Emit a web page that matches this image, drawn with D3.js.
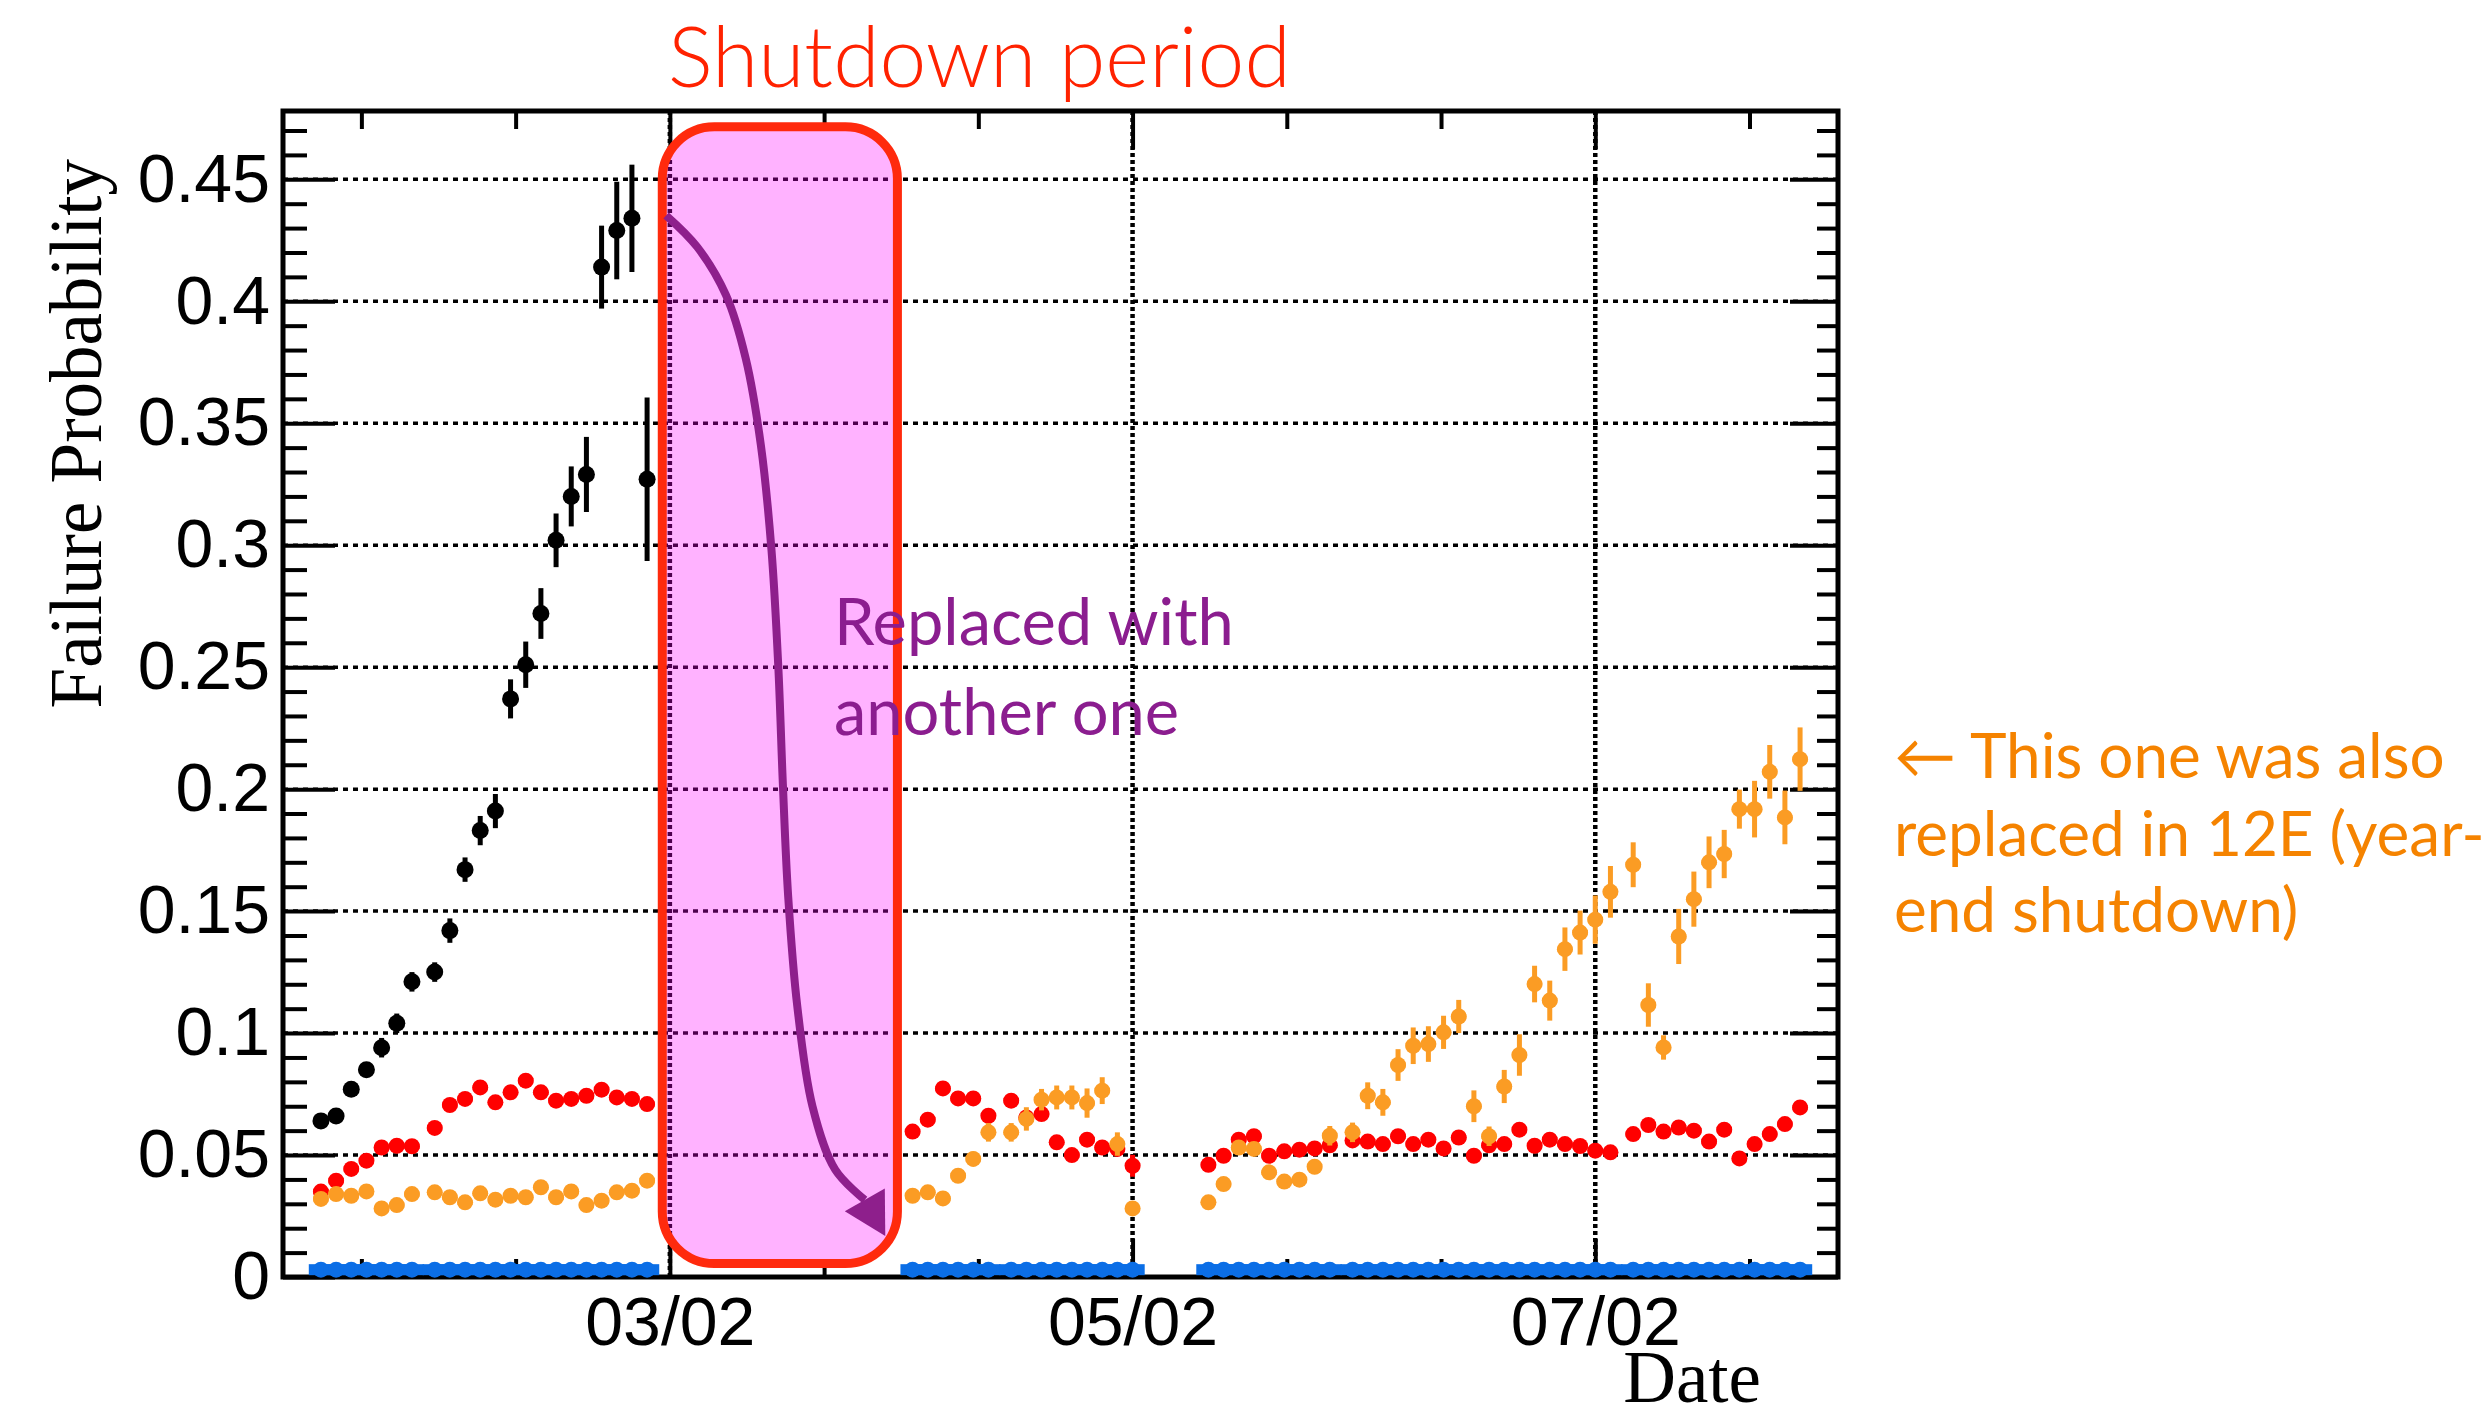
<!DOCTYPE html>
<html>
<head>
<meta charset="utf-8">
<script src="https://cdn.jsdelivr.net/npm/d3@7"></script>
<style>
  body { margin: 0; background: #fff; }
  svg { display: block; }
  .grid line { stroke: #000; }
  .axis path { display: none; }
  .axis line { stroke: #000; stroke-width: 4; }
  .axis text { font-family: "Liberation Sans", Arial, sans-serif; font-size: 68px; fill: #000; }
  .title { font-family: "Liberation Serif", "Times New Roman", serif; font-size: 73px; fill: #000; }
  .note { font-family: Lato, "Open Sans", sans-serif; }
</style>
</head>
<body>
<script>
// ---- data -------------------------------------------------------------
var xDomain = ['2013-01-10', '2013-08-03'];
var yMax = 0.478;

var yTicks = [0, 0.05, 0.1, 0.15, 0.2, 0.25, 0.3, 0.35, 0.4, 0.45];
var yTickLabels = ['0', '0.05', '0.1', '0.15', '0.2', '0.25', '0.3', '0.35', '0.4', '0.45'];
var xTicks = ['2013-03-02', '2013-05-02', '2013-07-02'];
var xTickLabels = ['03/02', '05/02', '07/02'];

// before the shutdown
var dates1 = ['2013-01-15','2013-01-17','2013-01-19','2013-01-21','2013-01-23','2013-01-25','2013-01-27','2013-01-30',
  '2013-02-01','2013-02-03','2013-02-05','2013-02-07','2013-02-09','2013-02-11','2013-02-13','2013-02-15',
  '2013-02-17','2013-02-19','2013-02-21','2013-02-23','2013-02-25','2013-02-27'];
var black1 = [0.064,0.066,0.077,0.085,0.094,0.104,0.121,0.125,0.142,0.167,0.183,0.191,0.237,0.251,0.272,0.302,0.320,0.329,0.414,0.429,0.434,0.327];
var blackErr1 = [0.003,0.003,0.003,0.003,0.004,0.004,0.004,0.004,0.005,0.005,0.006,0.007,0.008,0.0095,0.0104,0.011,0.0123,0.0154,0.017,0.020,0.022,0.0335];
var red1 = [0.035,0.0395,0.0443,0.0477,0.0531,0.0538,0.0536,0.0611,0.0705,0.0730,0.0777,0.0716,0.0757,0.0805,0.0757,0.0723,0.0730,0.0743,0.0768,0.0736,0.0730,0.0709];
var orange1 = [0.032,0.034,0.0333,0.0351,0.0281,0.0295,0.034,0.0347,0.0327,0.0306,0.0343,0.0317,0.0333,0.0327,0.0368,0.0327,0.0351,0.0295,0.0313,0.0347,0.0354,0.0395];
var blue1 = [0.003,0.003,0.003,0.003,0.003,0.003,0.003,0.003,0.003,0.003,0.003,0.003,0.003,0.003,0.003,0.003,0.003,0.003,0.003,0.003,0.003,0.003];

// between the shutdown and May
var dates2 = ['2013-04-03','2013-04-05','2013-04-07','2013-04-09','2013-04-11','2013-04-13','2013-04-16','2013-04-18',
  '2013-04-20','2013-04-22','2013-04-24','2013-04-26','2013-04-28','2013-04-30','2013-05-02'];
var red2 = [0.0596,0.0645,0.0773,0.0732,0.0732,0.0661,0.0723,0.0654,0.0668,0.0552,0.050,0.0563,0.0531,0.0525,0.0456];
var redErr2 = [0.002,0.002,0.002,0.002,0.002,0.002,0.002,0.002,0.002,0.002,0.002,0.002,0.002,0.003,0.0045];
var orange2 = [0.0333,0.0347,0.0322,0.0415,0.0484,0.0593,0.0593,0.0648,0.0727,0.0736,0.0736,0.0713,0.0764,0.0545,0.0281];
var orangeErr2 = [0.002,0.002,0.002,0.002,0.003,0.0038,0.0038,0.0048,0.0044,0.0049,0.0049,0.006,0.0055,0.0048,0.003];
var blue2 = [0.003,0.003,0.003,0.003,0.003,0.003,0.003,0.003,0.003,0.003,0.003,0.003,0.003,0.003,0.003];

// from mid May
var dates3 = ['2013-05-12','2013-05-14','2013-05-16','2013-05-18','2013-05-20','2013-05-22','2013-05-24','2013-05-26',
  '2013-05-28','2013-05-31','2013-06-02','2013-06-04','2013-06-06','2013-06-08','2013-06-10','2013-06-12',
  '2013-06-14','2013-06-16','2013-06-18','2013-06-20','2013-06-22','2013-06-24','2013-06-26','2013-06-28',
  '2013-06-30','2013-07-02','2013-07-04','2013-07-07','2013-07-09','2013-07-11','2013-07-13','2013-07-15',
  '2013-07-17','2013-07-19','2013-07-21','2013-07-23','2013-07-25','2013-07-27','2013-07-29'];
var red3 = [0.046,0.0497,0.0563,0.0577,0.0497,0.0515,0.0522,0.0527,0.054,0.056,0.0555,0.0545,0.0577,0.0545,0.0563,0.0527,
  0.0572,0.0497,0.054,0.0545,0.0604,0.0538,0.0563,0.0545,0.0537,0.0518,0.0511,0.0586,0.0623,0.0596,0.0613,0.060,
  0.0555,0.0604,0.0486,0.0545,0.0586,0.0627,0.0695];
var orange3 = [0.0306,0.0381,0.0531,0.0525,0.0429,0.0391,0.0399,0.0452,0.0579,0.0593,0.0743,0.0716,0.0869,0.0948,0.0955,0.1003,
  0.1068,0.070,0.0577,0.0781,0.091,0.1201,0.1133,0.1344,0.1412,0.1465,0.1579,0.169,0.1115,0.0941,0.1396,0.1549,
  0.170,0.1734,0.1918,0.1918,0.2071,0.1884,0.2123];
var orangeErr3 = [0.002,0.002,0.002,0.002,0.002,0.002,0.002,0.003,0.004,0.004,0.0055,0.0055,0.0065,0.0075,0.0073,0.0068,
  0.0068,0.0065,0.004,0.0068,0.0085,0.0075,0.0082,0.0089,0.009,0.0099,0.0106,0.0092,0.0089,0.005,0.0113,0.0113,
  0.0106,0.0099,0.008,0.0116,0.011,0.011,0.013];
var blue3 = [0.003,0.003,0.003,0.003,0.003,0.003,0.003,0.003,0.003,0.003,0.003,0.003,0.003,0.003,0.003,0.003,
  0.003,0.003,0.003,0.003,0.003,0.003,0.003,0.003,0.003,0.003,0.003,0.003,0.003,0.003,0.003,0.003,
  0.003,0.003,0.003,0.003,0.003,0.003,0.003];

// annotations
var shutdown = ['2013-03-01', '2013-04-01'];
var shutdownY = [0.0055, 0.4715];
// arrow: [days after xDomain[0], value]
var arrowPts = [[50.5,0.4352],[54.6,0.4223],[58.4,0.4025],[61.0,0.3766],[63.0,0.3410],[64.4,0.2980],[65.3,0.2500],
  [65.9,0.2020],[66.6,0.1560],[67.8,0.1110],[69.8,0.0700],[72.8,0.0440],[76.7,0.0316]];
var arrowTip = [79.4, 0.0168];

// ---- chart ------------------------------------------------------------
(function() {
var W = 2491, H = 1420;
var pL = 283, pR = 1838, pT = 111, pB = 1277;
var parse = d3.utcParse('%Y-%m-%d');
var DAY = 864e5;

var svg = d3.select('body').append('svg').attr('width', W).attr('height', H);
svg.append('rect').attr('width', W).attr('height', H).attr('fill', '#fff');

var x = d3.scaleUtc().domain(xDomain.map(parse)).range([pL, pR]);
var y = d3.scaleLinear().domain([0, yMax]).range([pB, pT]);
var t0 = parse(xDomain[0]).getTime();
function dayX(n) { return x(new Date(t0 + n * DAY)); }

var xMajor = xTicks.map(parse);
var step = (xMajor[1] - xMajor[0]) / 3;
var xMinor = [];
for (var k = -6; k < 12; k++) {
  var t = new Date(xMajor[0].getTime() + k * step);
  if (k % 3 !== 0 && t >= x.domain()[0] && t <= x.domain()[1]) xMinor.push(t);
}
var yMinor = d3.range(1, 48).map(function(i){ return i / 100; })
  .filter(function(v){ return Math.round(v * 100) % 5 !== 0; });

// grid
var grid = svg.append('g').attr('class', 'grid');
grid.selectAll('.gy').data(yTicks.slice(1)).enter().append('line')
  .attr('x1', pL).attr('x2', pR)
  .attr('y1', function(d){ return y(d); }).attr('y2', function(d){ return y(d); })
  .attr('stroke-width', 3.5).attr('stroke-dasharray', '5,5');
grid.selectAll('.gx').data(xMajor).enter().append('line')
  .attr('x1', function(d){ return x(d); }).attr('x2', function(d){ return x(d); })
  .attr('y1', pT).attr('y2', pB)
  .attr('stroke-width', 4.5).attr('stroke-dasharray', '4,3');

// shutdown box
var bx0 = x(parse(shutdown[0])), bx1 = x(parse(shutdown[1]));
var by0 = y(shutdownY[1]), by1 = y(shutdownY[0]);
svg.append('rect')
  .attr('x', bx0).attr('y', by0).attr('width', bx1 - bx0).attr('height', by1 - by0)
  .attr('rx', 52).attr('ry', 52)
  .attr('fill', '#ff00ff').attr('fill-opacity', 0.3);

// axes
function styleAxis(g) { g.attr('class', 'axis'); }
svg.append('g').attr('transform', 'translate(' + pL + ',0)')
  .call(d3.axisLeft(y).tickValues(yTicks).tickSizeInner(-52).tickSizeOuter(0).tickPadding(13)
    .tickFormat(function(d, i){ return yTickLabels[i]; }))
  .call(styleAxis);
svg.append('g').attr('transform', 'translate(' + pL + ',0)')
  .call(d3.axisLeft(y).tickValues(yMinor).tickSizeInner(-24).tickSizeOuter(0).tickFormat(''))
  .call(styleAxis);
svg.append('g').attr('transform', 'translate(' + pR + ',0)')
  .call(d3.axisRight(y).tickValues(yTicks).tickSizeInner(-48).tickSizeOuter(0).tickFormat(''))
  .call(styleAxis);
svg.append('g').attr('transform', 'translate(' + pR + ',0)')
  .call(d3.axisRight(y).tickValues(yMinor).tickSizeInner(-21).tickSizeOuter(0).tickFormat(''))
  .call(styleAxis);
svg.append('g').attr('transform', 'translate(0,' + pB + ')')
  .call(d3.axisBottom(x).tickValues(xMajor).tickSizeInner(-38).tickSizeOuter(0).tickPadding(20)
    .tickFormat(function(d, i){ return xTickLabels[i]; }))
  .call(styleAxis);
svg.append('g').attr('transform', 'translate(0,' + pB + ')')
  .call(d3.axisBottom(x).tickValues(xMinor).tickSizeInner(-18).tickSizeOuter(0).tickFormat(''))
  .call(styleAxis);
svg.append('g').attr('transform', 'translate(0,' + pT + ')')
  .call(d3.axisTop(x).tickValues(xMajor).tickSizeInner(-38).tickSizeOuter(0).tickFormat(''))
  .call(styleAxis);
svg.append('g').attr('transform', 'translate(0,' + pT + ')')
  .call(d3.axisTop(x).tickValues(xMinor).tickSizeInner(-18).tickSizeOuter(0).tickFormat(''))
  .call(styleAxis);

svg.append('rect').attr('x', pL).attr('y', pT).attr('width', pR - pL).attr('height', pB - pT)
  .attr('fill', 'none').attr('stroke', '#000').attr('stroke-width', 5);

// data
function pts(dates, vals, errs) {
  return dates.map(function(d, i){ return {t: parse(d), v: vals[i], e: errs ? errs[i] : 0.002}; });
}
var series = [
  {color: '#000000', r: 8.5, bar: 5, xe: 1, pts: pts(dates1, black1, blackErr1)},
  {color: '#ff0000', r: 8, bar: 5, xe: 1, pts: pts(dates1, red1).concat(pts(dates2, red2, redErr2), pts(dates3, red3))},
  {color: '#fb9c24', r: 8, bar: 5, xe: 1, pts: pts(dates1, orange1).concat(pts(dates2, orange2, orangeErr2), pts(dates3, orange3, orangeErr3))},
  {color: '#0b6ee6', r: 8, bar: 11, xe: 1.6, pts: pts(dates1, blue1).concat(pts(dates2, blue2), pts(dates3, blue3))}
];

series.forEach(function(s) {
  var g = svg.append('g');
  var p = g.selectAll('g').data(s.pts).enter().append('g');
  p.append('line')
    .attr('x1', function(d){ return x(d.t); }).attr('x2', function(d){ return x(d.t); })
    .attr('y1', function(d){ return y(Math.max(0, d.v - d.e)); }).attr('y2', function(d){ return y(d.v + d.e); })
    .attr('stroke', s.color).attr('stroke-width', 5);
  p.append('line')
    .attr('x1', function(d){ return x(new Date(d.t.getTime() - s.xe * DAY)); })
    .attr('x2', function(d){ return x(new Date(d.t.getTime() + s.xe * DAY)); })
    .attr('y1', function(d){ return y(d.v); }).attr('y2', function(d){ return y(d.v); })
    .attr('stroke', s.color).attr('stroke-width', s.bar);
  p.append('circle')
    .attr('cx', function(d){ return x(d.t); }).attr('cy', function(d){ return y(d.v); })
    .attr('r', s.r).attr('fill', s.color);
});

// shutdown frame on top
svg.append('rect')
  .attr('x', bx0).attr('y', by0).attr('width', bx1 - bx0).attr('height', by1 - by0)
  .attr('rx', 52).attr('ry', 52)
  .attr('fill', 'none').attr('stroke', '#ff2a0d').attr('stroke-width', 9);

// arrow
var purple = '#8e1f8c';
var line = d3.line().x(function(d){ return dayX(d[0]); }).y(function(d){ return y(d[1]); })
  .curve(d3.curveCatmullRom.alpha(0.5));
svg.append('path').attr('d', line(arrowPts))
  .attr('fill', 'none').attr('stroke', purple).attr('stroke-width', 8);
var last = arrowPts[arrowPts.length - 1];
var bxp = dayX(last[0]), byp = y(last[1]);
var tx = dayX(arrowTip[0]), ty = y(arrowTip[1]);
var dx = tx - bxp, dy = ty - byp, len = Math.sqrt(dx * dx + dy * dy);
var nx = -dy / len * 23, ny = dx / len * 23;
svg.append('path')
  .attr('d', 'M' + tx + ',' + ty + 'L' + (bxp + nx) + ',' + (byp + ny) + 'L' + (bxp - nx) + ',' + (byp - ny) + 'Z')
  .attr('fill', purple);

// titles
svg.append('text').attr('class', 'title')
  .attr('transform', 'translate(101,159) rotate(-90)')
  .attr('text-anchor', 'end').text('Failure Probability');
svg.append('text').attr('class', 'title')
  .attr('x', 1761).attr('y', 1402).attr('text-anchor', 'end').attr('font-size', 72).text('Date');

// notes
svg.append('text').attr('class', 'note')
  .attr('x', 668).attr('y', 87).attr('font-size', 84).attr('font-weight', 300)
  .attr('fill', '#ff2200').text('Shutdown period');

var n1 = svg.append('text').attr('class', 'note').attr('font-size', 65).attr('fill', '#8b1d8f');
n1.append('tspan').attr('x', 834).attr('y', 645).text('Replaced with');
n1.append('tspan').attr('x', 834).attr('y', 735).text('another one');

var n2 = svg.append('text').attr('class', 'note').attr('font-size', 62).attr('fill', '#f58300');
n2.append('tspan').attr('x', 1894).attr('y', 778).text('\u2190 This one was also');
n2.append('tspan').attr('x', 1894).attr('y', 856).text('replaced in 12E (year-');
n2.append('tspan').attr('x', 1894).attr('y', 932).text('end shutdown)');
})();
</script>
</body>
</html>
